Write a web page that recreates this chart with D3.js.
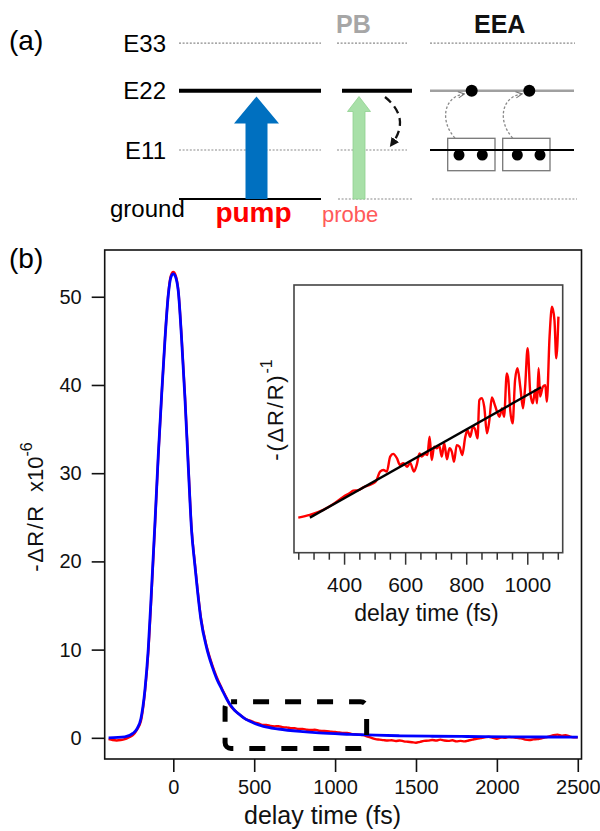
<!DOCTYPE html>
<html>
<head>
<meta charset="utf-8">
<script src="https://cdn.jsdelivr.net/npm/d3@7"></script>
<style>
  body { margin: 0; background: #fff; }
  svg { display: block; }
  text { font-family: "Liberation Sans", Arial, Helvetica, sans-serif; }
</style>
</head>
<body>
<svg id="fig" width="600" height="831"></svg>
<script>
// ---------------- data ----------------
// (a) energy levels (arbitrary energy units)
const levelNames = ["E33", "E22", "E11", "ground"];
const levelEnergies = [3.18, 2.21, 1.0, 0];

// (b) transient reflectivity, -dR/R x 1e-6, vs delay time (fs)
const fitTime = [-400, -300, -250, -225, -200, -175, -155, -134, -113, -93, -72, -51, -31, -15, 0, 15, 31, 51, 72, 93, 113, 132, 150, 170, 206, 240, 268, 300, 330, 350, 380, 412, 433, 470, 500, 557, 650, 783, 900, 1092, 1250, 1401, 1600, 1813, 2100, 2500];
const fitSignal = [0, 0.1, 0.5, 1.0, 2.2, 5.5, 10, 17, 24.5, 32, 38.9, 45.3, 50.2, 52.2, 52.6, 52.2, 50.6, 45.3, 38.5, 30.6, 23.5, 19.8, 16.6, 13.5, 10.2, 8.1, 6.7, 5.5, 4.4, 3.8, 3.1, 2.6, 2.3, 1.9, 1.65, 1.3, 1.0, 0.72, 0.55, 0.4, 0.3, 0.23, 0.18, 0.15, 0.11, 0.08];

const dataTime = [-400, -375, -350, -325, -300, -275, -250, -225, -200, -175, -155, -134, -113, -93, -72, -51, -31, -15, 0, 15, 31, 51, 72, 93, 113, 132, 150, 170, 206, 240, 268, 300, 330, 350, 380, 412,
  450, 475, 500, 525, 550, 575, 600, 625, 650, 675, 700, 725, 750, 775, 800, 825, 850, 875, 900, 925, 950, 975, 1000, 1025, 1050, 1075, 1100, 1125, 1150, 1175, 1200, 1225, 1250, 1275, 1300, 1325, 1350, 1375, 1400, 1425, 1450, 1475, 1500, 1525, 1550, 1575, 1600, 1625, 1650, 1675, 1700, 1725, 1750, 1775, 1800, 1825, 1850, 1875, 1900, 1925, 1950, 1975, 2000, 2025, 2050, 2075, 2100, 2125, 2150, 2175, 2200, 2225, 2250, 2275, 2300, 2325, 2350, 2375, 2400, 2425, 2450, 2475, 2500];
const dataSignal = [-0.15, -0.25, -0.3, -0.25, -0.15, 0.05, 0.3, 0.9, 1.9, 5.3, 9.6, 16.6, 24.2, 31.8, 38.8, 45.3, 50.3, 52.4, 52.8, 52.4, 50.7, 45.5, 38.7, 30.9, 23.7, 20.0, 16.8, 13.7, 10.4, 8.3, 6.9, 5.6, 4.5, 3.7, 3.1, 2.6,
  2.1, 1.95, 1.75, 1.65, 1.45, 1.45, 1.35, 1.3, 1.32, 1.2, 1.18, 1.1, 1.08, 1.0, 1.02, 0.92, 0.88, 0.92, 0.8, 0.78, 0.76, 0.7, 0.66, 0.62, 0.56, 0.56, 0.45, 0.4, 0.36, 0.3, 0.15, 0.0, -0.15, -0.2, -0.26, -0.3, -0.28, -0.36, -0.3, -0.4, -0.45, -0.5, -0.55, -0.45, -0.35, -0.32, -0.24, -0.3, -0.2, -0.3, -0.35, -0.28, -0.4, -0.34, -0.4, -0.3, -0.2, -0.1, -0.02, 0.06, 0.12, 0.0, -0.1, 0.04, 0.0, 0.1, 0.05, 0.0, -0.06, -0.2, -0.25, -0.18, -0.15, -0.05, 0.05, 0.15, 0.3, 0.36, 0.25, 0.3, 0.15, 0.06, 0.05];

const xTicksMain = [0, 500, 1000, 1500, 2000, 2500];
const yTicksMain = [0, 10, 20, 30, 40, 50];
const zoomWindowTime = [320, 1195];
const zoomWindowSignal = [-1.2, 4.1];

// inset: -(dR/R)^-1 (arbitrary units) vs delay time (fs)
const insetTime = [250, 288, 332, 365, 398, 420, 430, 447, 463, 491, 505, 518, 529, 540, 551, 561, 573, 583, 594, 607, 616, 629, 638, 647, 654, 665, 673, 680, 687, 695, 704, 712, 720, 728, 737, 745, 753, 760, 769, 778, 787, 797, 804, 813, 822, 829, 837, 843, 851, 859, 868, 876, 884, 892, 900, 909, 917, 924, 933, 938, 944, 952, 960, 968, 977, 986, 993, 1001, 1010, 1018, 1026, 1032, 1037, 1042, 1051, 1059, 1064, 1073, 1081, 1089, 1095, 1102];
const insetInverse = [13.1, 14.1, 16.0, 18.2, 20.9, 22.4, 23.2, 23.4, 24.4, 25.7, 26.8, 30.3, 30.9, 30.3, 35.9, 36.9, 35.3, 32.8, 33.4, 32.1, 33.6, 30.3, 32.8, 37.1, 35.9, 36.9, 36.5, 43.3, 34.6, 39.6, 39.0, 39.9, 35.9, 40.9, 34.9, 39.0, 37.7, 34.0, 40.2, 39.6, 36.5, 43.3, 45.8, 43.3, 47.1, 46.1, 42.7, 57.0, 57.7, 54.5, 44.6, 49.6, 58.0, 55.8, 53.0, 50.8, 53.9, 50.8, 67.0, 64.5, 53.3, 48.3, 64.5, 68.9, 62.0, 53.9, 62.0, 76.4, 59.5, 55.8, 60.8, 55.8, 68.9, 58.3, 62.0, 62.6, 56.4, 80.7, 91.9, 86.9, 72.6, 88.2];
const insetFitTime = [288, 1045];
const insetFitInverse = [13.1, 61.8];
const insetMajorTicks = [400, 600, 800, 1000];
const insetMinorTicks = [250, 300, 350, 450, 500, 550, 650, 700, 750, 850, 900, 950, 1050, 1100];

// ---------------- drawing ----------------
const svg = d3.select("#fig");
svg.append("rect").attr("width", 600).attr("height", 831).attr("fill", "#fff");
const plain = d3.format("d");

const defs = svg.append("defs");
defs.append("marker").attr("id", "headBlack")
  .attr("viewBox", "0 0 10 10").attr("refX", 6).attr("refY", 5)
  .attr("markerWidth", 4).attr("markerHeight", 4).attr("markerUnits", "strokeWidth")
  .attr("orient", "auto")
  .append("path").attr("d", "M0,0 L10,5 L0,10 Z").attr("fill", "#111");
defs.append("marker").attr("id", "headGray")
  .attr("viewBox", "0 0 10 10").attr("refX", 8).attr("refY", 5)
  .attr("markerWidth", 6).attr("markerHeight", 6).attr("markerUnits", "strokeWidth")
  .attr("orient", "auto")
  .append("path").attr("d", "M1,1 L9,5 L1,9").attr("fill", "none")
  .attr("stroke", "#777").attr("stroke-width", 1.4);

// ----- panel (a): level diagram -----
const a = svg.append("g");
const ey = d3.scaleLinear().domain([0, 1]).range([199, 150]);
const lvl = name => ey(levelEnergies[levelNames.indexOf(name)]);

a.append("text").attr("x", 9).attr("y", 50).attr("font-size", 28).text("(a)");

// level names
levelNames.forEach((n, i) => {
  if (n === "ground") {
    a.append("text").attr("x", 110).attr("y", 217).attr("font-size", 24).text(n);
  } else {
    a.append("text").attr("x", 166).attr("y", ey(levelEnergies[i]) + 8.6)
      .attr("text-anchor", "end").attr("font-size", 24).text(n);
  }
});

function level(x0, x1, name, kind) {
  const y = lvl(name);
  const l = a.append("line").attr("x1", x0).attr("x2", x1).attr("y1", y).attr("y2", y);
  if (kind === "dot") l.attr("stroke", "#8a8a8a").attr("stroke-width", 1.2).attr("stroke-dasharray", "2 1.6");
  else if (kind === "thick") l.attr("stroke", "#000").attr("stroke-width", 4);
  else if (kind === "gray") l.attr("stroke", "#a0a0a0").attr("stroke-width", 2.5);
  else l.attr("stroke", "#000").attr("stroke-width", 2.2);
}

// column 1: pump
level(179, 321, "E33", "dot");
level(179, 321, "E22", "thick");
level(179, 321, "E11", "dot");
level(179, 321, "ground", "solid");

function blockArrow(cx, yBottom, yTip, shaftHalf, headHalf, headLen) {
  const ys = yTip + headLen;
  return `M${cx - shaftHalf},${yBottom} L${cx - shaftHalf},${ys} L${cx - headHalf},${ys} L${cx},${yTip} L${cx + headHalf},${ys} L${cx + shaftHalf},${ys} L${cx + shaftHalf},${yBottom} Z`;
}
a.append("path").attr("d", blockArrow(256.5, lvl("ground"), 96.5, 11, 22.5, 27)).attr("fill", "#0070c0");
a.append("text").attr("x", 253.5).attr("y", 222).attr("text-anchor", "middle")
  .attr("font-size", 28).attr("font-weight", "bold").attr("fill", "#ff0000").text("pump");

// column 2: photobleaching
a.append("text").attr("x", 336).attr("y", 33).attr("font-size", 25).attr("font-weight", "bold")
  .attr("fill", "#a6a6a6").text("PB");
level(337, 407, "E33", "dot");
level(342, 412, "E22", "thick");
level(337, 407, "E11", "dot");
level(338, 413, "ground", "dot");
a.append("path").attr("d", blockArrow(359, lvl("ground"), 96.5, 6, 11.5, 15))
  .attr("fill", "#a8e0a8").attr("stroke", "#8fd18f").attr("stroke-width", 0.8);
a.append("path").attr("d", "M385,97 Q411,118 392,144")
  .attr("fill", "none").attr("stroke", "#111").attr("stroke-width", 2.3)
  .attr("stroke-dasharray", "8 5").attr("marker-end", "url(#headBlack)");
a.append("text").attr("x", 322).attr("y", 222).attr("font-size", 22).attr("fill", "#ff5a5a").text("probe");

// column 3: exciton-exciton annihilation
a.append("text").attr("x", 474).attr("y", 33).attr("font-size", 25).attr("font-weight", "bold")
  .attr("fill", "#111").text("EEA");
level(430, 575, "E33", "dot");
level(430, 574, "E22", "gray");
level(432, 577, "ground", "dot");
[447.7, 502.7].forEach(bx => {
  a.append("rect").attr("x", bx).attr("y", 138.3).attr("width", 47.3).attr("height", 32.4)
    .attr("fill", "none").attr("stroke", "#777").attr("stroke-width", 1.3);
});
level(430, 574, "E11", "solid");
[459, 482.3, 517.3, 540].forEach(cx => {
  a.append("circle").attr("cx", cx).attr("cy", 155).attr("r", 5.5).attr("fill", "#000");
});
[[455, 471.7], [512.7, 529.3]].forEach(([sx, tx]) => {
  a.append("path").attr("d", `M${sx},138 C${sx - 15},122 ${sx - 12},97 ${tx - 8},94`)
    .attr("fill", "none").attr("stroke", "#888").attr("stroke-width", 1.3)
    .attr("stroke-dasharray", "2.5 2").attr("marker-end", "url(#headGray)");
  a.append("circle").attr("cx", tx).attr("cy", lvl("E22")).attr("r", 6).attr("fill", "#000");
});

// ----- panel (b): main trace -----
const b = svg.append("g");
b.append("text").attr("x", 9).attr("y", 268).attr("font-size", 28).text("(b)");

const mx = d3.scaleLinear().domain([-424, 2523]).range([104.7, 581.5]);
const my = d3.scaleLinear().domain([-2.4, 55.3]).range([759, 250]);

b.append("rect").attr("x", mx.range()[0]).attr("y", my.range()[1])
  .attr("width", mx.range()[1] - mx.range()[0]).attr("height", my.range()[0] - my.range()[1])
  .attr("fill", "#fff").attr("stroke", "#111").attr("stroke-width", 1.6);

const xAx = b.append("g").attr("transform", `translate(0,${my.range()[0]})`)
  .call(d3.axisBottom(mx).tickValues(xTicksMain).tickFormat(plain).tickSize(13).tickSizeOuter(0).tickPadding(8));
const yAx = b.append("g").attr("transform", `translate(${mx.range()[0]},0)`)
  .call(d3.axisLeft(my).tickValues(yTicksMain).tickFormat(plain).tickSize(13).tickSizeOuter(0).tickPadding(10));
[xAx, yAx].forEach(g => {
  g.select(".domain").remove();
  g.selectAll(".tick line").attr("stroke", "#111").attr("stroke-width", 1.6);
  g.selectAll(".tick text").attr("font-size", 20).attr("fill", "#111")
    .attr("font-family", "'Liberation Sans', Arial, sans-serif");
});

b.append("text").attr("x", 322.5).attr("y", 824).attr("text-anchor", "middle")
  .attr("font-size", 25).attr("fill", "#111").text("delay time (fs)");

const yl = b.append("text").attr("transform", "translate(43,507) rotate(-90)")
  .attr("text-anchor", "middle").attr("font-size", 22).attr("fill", "#111");
yl.append("tspan").attr("letter-spacing", 1.5).text("-ΔR/R");
yl.append("tspan").text("\u00a0\u00a0x10");
yl.append("tspan").attr("dy", -11).attr("font-size", 16).text("-6");

const lineMain = d3.line().x(d => mx(d[0])).y(d => my(d[1])).curve(d3.curveMonotoneX);
b.append("path").datum(d3.zip(dataTime, dataSignal)).attr("d", lineMain)
  .attr("fill", "none").attr("stroke", "#ff0000").attr("stroke-width", 2.4).attr("stroke-linejoin", "round");
b.append("path").datum(d3.zip(fitTime, fitSignal)).attr("d", lineMain)
  .attr("fill", "none").attr("stroke", "#0000ff").attr("stroke-width", 2.8).attr("stroke-linejoin", "round");

// dashed window marking the inset range
b.append("rect")
  .attr("x", mx(zoomWindowTime[0])).attr("y", my(zoomWindowSignal[1]))
  .attr("width", mx(zoomWindowTime[1]) - mx(zoomWindowTime[0]))
  .attr("height", my(zoomWindowSignal[0]) - my(zoomWindowSignal[1]))
  .attr("rx", 6).attr("fill", "none").attr("stroke", "#000").attr("stroke-width", 5)
  .attr("stroke-dasharray", "16 16").attr("stroke-dashoffset", 10);

// ----- inset -----
const ix = d3.scaleLinear().domain([236, 1116]).range([294, 562.7]);
const iy = d3.scaleLinear().domain([0, 100]).range([552.7, 285]);
const ins = svg.append("g");
ins.append("rect").attr("x", ix.range()[0]).attr("y", iy.range()[1])
  .attr("width", ix.range()[1] - ix.range()[0]).attr("height", iy.range()[0] - iy.range()[1])
  .attr("fill", "#fff").attr("stroke", "#444").attr("stroke-width", 1.6);

const ixMinor = ins.append("g").attr("transform", `translate(0,${iy.range()[0]})`)
  .call(d3.axisBottom(ix).tickValues(insetMinorTicks).tickSize(7).tickFormat(""));
const ixMajor = ins.append("g").attr("transform", `translate(0,${iy.range()[0]})`)
  .call(d3.axisBottom(ix).tickValues(insetMajorTicks).tickFormat(plain).tickSize(12).tickPadding(12));
[ixMinor, ixMajor].forEach(g => {
  g.select(".domain").remove();
  g.selectAll(".tick line").attr("stroke", "#333").attr("stroke-width", 1.5);
  g.selectAll(".tick text").attr("font-size", 21).attr("fill", "#111")
    .attr("font-family", "'Liberation Sans', Arial, sans-serif");
});

ins.append("text").attr("x", 426.5).attr("y", 621).attr("text-anchor", "middle")
  .attr("font-size", 23).attr("fill", "#111").text("delay time (fs)");

const il = ins.append("text").attr("transform", "translate(283,410) rotate(-90)")
  .attr("text-anchor", "middle").attr("font-size", 22).attr("fill", "#111");
il.append("tspan").attr("letter-spacing", 1.8).text("-(ΔR/R)");
il.append("tspan").attr("dy", -11).attr("font-size", 16).text("-1");

const lineInset = d3.line().x(d => ix(d[0])).y(d => iy(d[1])).curve(d3.curveMonotoneX);
ins.append("path").datum(d3.zip(insetTime, insetInverse)).attr("d", lineInset)
  .attr("fill", "none").attr("stroke", "#ff0000").attr("stroke-width", 2.4).attr("stroke-linejoin", "round");
ins.append("path").datum(d3.zip(insetFitTime, insetFitInverse)).attr("d", d3.line().x(d => ix(d[0])).y(d => iy(d[1])))
  .attr("fill", "none").attr("stroke", "#000").attr("stroke-width", 2.4);
</script>
</body>
</html>
